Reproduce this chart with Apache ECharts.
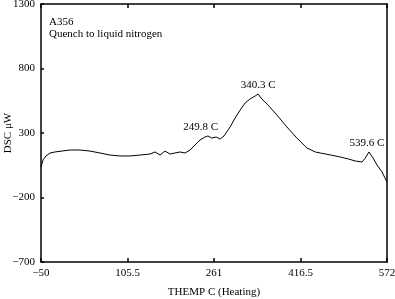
<!DOCTYPE html>
<html>
<head>
<meta charset="utf-8">
<script src="https://cdn.jsdelivr.net/npm/echarts@6/dist/echarts.min.js"></script>
<style>
  html, body { margin: 0; padding: 0; background: #fff; }
  #chart { width: 395px; height: 299px; }
</style>
</head>
<body>
<div id="chart"></div>
<script>
// DSC trace
var tempC = [-50, -46.4, -41, -33.8, -24.8, -12.2, 2.1, 20.1, 38, 56, 74, 92, 110, 128, 146, 155, 164, 173, 182, 191, 200, 209, 218, 227, 236, 245, 250, 257, 265, 272, 279, 290, 299, 308, 317, 326, 335, 340.3, 347, 358, 374, 392, 410, 428, 443, 452, 470, 488, 503, 515, 527, 533, 539.6, 547, 554, 563, 572];
var dscUW = [36, 91, 122, 145, 153, 160, 168, 168, 160, 145, 129, 122, 122, 129, 137, 153, 129, 160, 137, 145, 153, 145, 168, 207, 246, 269, 277, 261, 269, 253, 277, 347, 416, 478, 533, 564, 587, 602, 564, 517, 440, 347, 261, 184, 153, 145, 130, 114, 98, 83, 75, 106, 153, 106, 52, -2, -80];

// peak annotations
var peakTemps = [249.8, 340.3, 539.6];
var peakValues = [277, 602, 153];
var peakLabels = ['249.8 C', '340.3 C', '539.6 C'];

var xTicks = [-50, 105.5, 261, 416.5, 572];
var yTicks = [-700, -200, 300, 800, 1300];

var chartDom = document.getElementById('chart');
var myChart = echarts.init(chartDom);

var font = 'Liberation Serif';
var minus = function (v) { return String(v).replace('-', '\u2212'); };

var seriesData = tempC.map(function (t, i) { return [t, dscUW[i]]; });
var peakOffsets = [[-7, 0], [0, 0], [-2, 0]];
var markData = peakTemps.map(function (t, i) {
  return {
    coord: [t, peakValues[i]],
    value: peakLabels[i],
    label: { offset: peakOffsets[i] }
  };
});

var option = {
  animation: false,
  grid: { left: 41, right: 8, top: 4, bottom: 37, outerBoundsMode: 'none', containLabel: false },
  xAxis: [
    {
      type: 'value',
      min: -50,
      max: 572,
      name: 'THEMP C (Heating)',
      nameLocation: 'middle',
      nameGap: 25,
      nameMoveOverlap: false,
      nameTextStyle: { fontFamily: font, fontSize: 11, color: '#000' },
      axisLine: { show: true, onZero: false, lineStyle: { color: '#000', width: 1.5 } },
      axisTick: { show: true, inside: true, length: 4, customValues: xTicks, lineStyle: { color: '#000', width: 1.5 } },
      axisLabel: { customValues: xTicks, color: '#000', fontFamily: font, fontSize: 11, margin: 6, formatter: minus },
      splitLine: { show: false }
    },
    {
      type: 'value',
      position: 'top',
      min: -50,
      max: 572,
      axisLine: { show: true, onZero: false, lineStyle: { color: '#000', width: 1.5 } },
      axisTick: { show: true, inside: true, length: 4, customValues: xTicks, lineStyle: { color: '#000', width: 1.5 } },
      axisLabel: { show: false },
      splitLine: { show: false }
    }
  ],
  yAxis: [
    {
      type: 'value',
      min: -700,
      max: 1300,
      name: 'DSC \u03bcW',
      nameLocation: 'middle',
      nameGap: 27,
      nameMoveOverlap: false,
      nameTextStyle: { fontFamily: font, fontSize: 11, color: '#000' },
      axisLine: { show: true, onZero: false, lineStyle: { color: '#000', width: 1.5 } },
      axisTick: { show: true, inside: true, length: 3, customValues: yTicks, lineStyle: { color: '#000', width: 1.5 } },
      axisLabel: { customValues: yTicks, color: '#000', fontFamily: font, fontSize: 11, margin: 6, formatter: minus },
      splitLine: { show: false }
    },
    {
      type: 'value',
      position: 'right',
      min: -700,
      max: 1300,
      axisLine: { show: true, onZero: false, lineStyle: { color: '#000', width: 1.5 } },
      axisTick: { show: false },
      axisLabel: { show: false },
      splitLine: { show: false }
    }
  ],
  series: [
    {
      type: 'line',
      data: seriesData,
      showSymbol: false,
      symbol: 'none',
      lineStyle: { color: '#000', width: 1 },
      markPoint: {
        symbol: 'circle',
        symbolSize: 0,
        label: {
          show: true,
          position: 'top',
          distance: 3,
          color: '#000',
          fontFamily: font,
          fontSize: 11,
          formatter: function (p) { return p.value; }
        },
        data: markData
      }
    }
  ],
  graphic: {
    elements: [
      { type: 'text', left: 49, top: 17, style: { text: 'A356', fill: '#000', font: '11px "Liberation Serif"' } },
      { type: 'text', left: 49, top: 29, style: { text: 'Quench to liquid nitrogen', fill: '#000', font: '11px "Liberation Serif"' } }
    ]
  }
};

myChart.setOption(option);
</script>
</body>
</html>
